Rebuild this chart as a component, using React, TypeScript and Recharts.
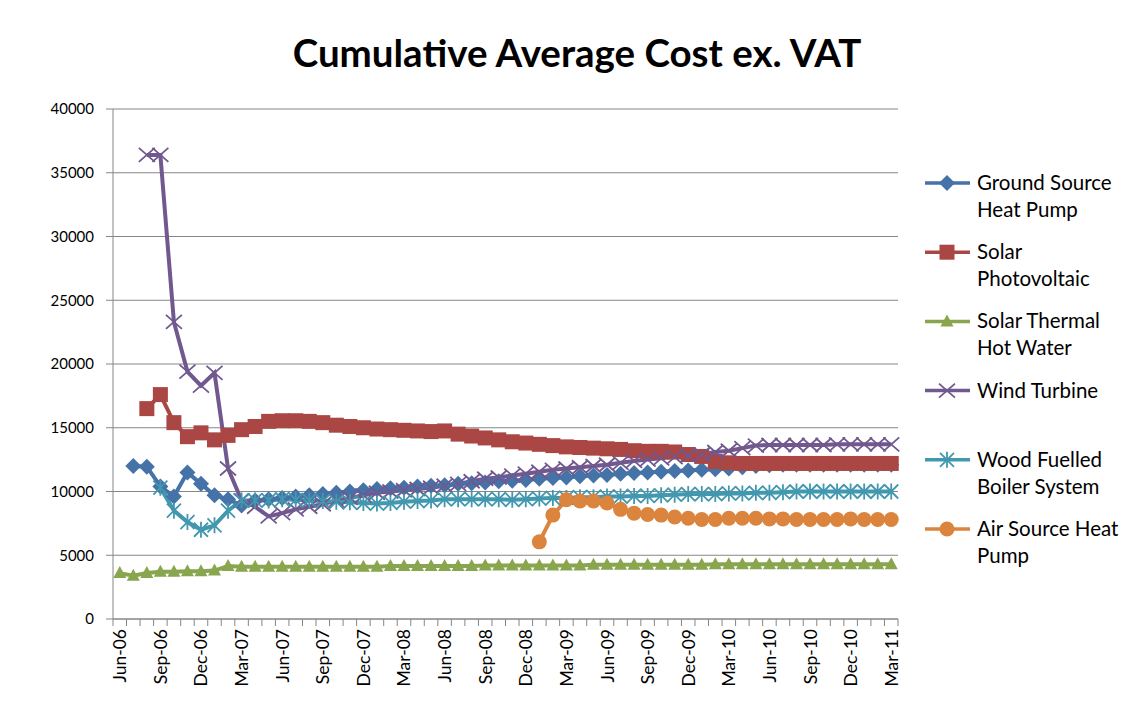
import React from 'react';
import { LineChart, Line, XAxis, YAxis, CartesianGrid, Legend } from 'recharts';

const months = [
  'Jun-06', 'Jul-06', 'Aug-06', 'Sep-06', 'Oct-06', 'Nov-06', 'Dec-06',
  'Jan-07', 'Feb-07', 'Mar-07', 'Apr-07', 'May-07', 'Jun-07', 'Jul-07', 'Aug-07', 'Sep-07', 'Oct-07', 'Nov-07', 'Dec-07',
  'Jan-08', 'Feb-08', 'Mar-08', 'Apr-08', 'May-08', 'Jun-08', 'Jul-08', 'Aug-08', 'Sep-08', 'Oct-08', 'Nov-08', 'Dec-08',
  'Jan-09', 'Feb-09', 'Mar-09', 'Apr-09', 'May-09', 'Jun-09', 'Jul-09', 'Aug-09', 'Sep-09', 'Oct-09', 'Nov-09', 'Dec-09',
  'Jan-10', 'Feb-10', 'Mar-10', 'Apr-10', 'May-10', 'Jun-10', 'Jul-10', 'Aug-10', 'Sep-10', 'Oct-10', 'Nov-10', 'Dec-10',
  'Jan-11', 'Feb-11', 'Mar-11',
];

const groundSource = [
  null, 12000, 11950, 10400, 9600, 11500, 10600, 9700, 9400, 8900,
  9300, 9400, 9500, 9600, 9700, 9800, 9900, 10000, 10100, 10200,
  10250, 10300, 10400, 10450, 10500, 10600, 10650, 10700, 10800, 10850,
  10900, 11000, 11050, 11100, 11200, 11250, 11300, 11400, 11450, 11500,
  11550, 11600, 11650, 11700, 11750, 11800, 11900, 12000, 12050, 12100,
  12100, 12100, 12100, 12100, 12100, 12100, 12100, 12100,
];

const solarPV = [
  null, null, 16500, 17600, 15400, 14300, 14600, 14050, 14400, 14850,
  15100, 15500, 15550, 15550, 15500, 15400, 15200, 15100, 15000, 14900,
  14850, 14800, 14750, 14700, 14750, 14500, 14350, 14200, 14050, 13900,
  13800, 13700, 13600, 13500, 13450, 13400, 13350, 13300, 13200, 13150,
  13150, 13100, 12900, 12750, 12350, 12250, 12200, 12200, 12200, 12200,
  12200, 12200, 12200, 12200, 12200, 12200, 12200, 12200,
];

const solarThermal = [
  3600, 3400, 3600, 3700, 3700, 3750, 3750, 3800, 4150, 4100,
  4100, 4100, 4100, 4100, 4100, 4100, 4100, 4100, 4100, 4100,
  4150, 4150, 4150, 4150, 4150, 4150, 4150, 4200, 4200, 4200,
  4200, 4200, 4200, 4200, 4200, 4250, 4250, 4250, 4250, 4250,
  4250, 4250, 4250, 4250, 4300, 4300, 4300, 4300, 4300, 4300,
  4300, 4300, 4300, 4300, 4300, 4300, 4300, 4300,
];

const windTurbine = [
  null, null, 36400, 36400, 23300, 19400, 18300, 19300, 11800, 9300,
  8800, 8050, 8300, 8600, 8800, 9000, 9300, 9500, 9700, 9900,
  10000, 10100, 10200, 10300, 10450, 10600, 10800, 11000, 11100, 11250,
  11400, 11550, 11700, 11800, 11900, 12000, 12100, 12250, 12400, 12500,
  12600, 12700, 12800, 12900, 13100, 13200, 13400, 13600, 13650, 13650,
  13650, 13650, 13650, 13700, 13700, 13700, 13700, 13700,
];

const woodBoiler = [
  null, null, null, 10300, 8500, 7600, 7000, 7350, 8500, 9300,
  9300, 9300, 9400, 9350, 9300, 9250, 9200, 9150, 9100, 9050,
  9100, 9200, 9250, 9300, 9400, 9400, 9400, 9400, 9400, 9350,
  9400, 9450, 9500, 9500, 9550, 9550, 9600, 9600, 9650, 9650,
  9700, 9750, 9800, 9800, 9800, 9850, 9850, 9900, 9900, 9950,
  10000, 10000, 10000, 10000, 10000, 10000, 10000, 10000,
];

const airSource = [
  null, null, null, null, null, null, null, null, null, null,
  null, null, null, null, null, null, null, null, null, null,
  null, null, null, null, null, null, null, null, null, null,
  null, 6050, 8150, 9350, 9250, 9250, 9100, 8600, 8300, 8200,
  8150, 8000, 7900, 7800, 7800, 7900, 7900, 7900, 7850, 7850,
  7800, 7800, 7800, 7800, 7850, 7800, 7800, 7800,
];

const yTicks = [0, 5000, 10000, 15000, 20000, 25000, 30000, 35000, 40000];

const seriesNames = [
  ['Ground Source', 'Heat Pump'],
  ['Solar', 'Photovoltaic'],
  ['Solar Thermal', 'Hot Water'],
  ['Wind Turbine'],
  ['Wood Fuelled', 'Boiler System'],
  ['Air Source Heat', 'Pump'],
];

const data = months.map((m, i) => ({
  month: m,
  gshp: groundSource[i],
  pv: solarPV[i],
  thermal: solarThermal[i],
  wind: windTurbine[i],
  wood: woodBoiler[i],
  ashp: airSource[i],
}));

const COLORS = ['#4572A7', '#AA4643', '#89A54E', '#71588F', '#4198AF', '#DB843D'];
const KEYS = ['gshp', 'pv', 'thermal', 'wind', 'wood', 'ashp'];
const FONT = 'Lato, "Open Sans", sans-serif';
const GRID = '#868686';

const W = 1134;
const H = 726;
const PLOT_LEFT = 113;
const PLOT_RIGHT = 898;
const PLOT_TOP = 109;
const PLOT_BOTTOM = 619;
const STEP = (PLOT_RIGHT - PLOT_LEFT) / months.length;

// marker shapes, drawn around (cx, cy)
function marker(kind: number, cx: number, cy: number, color: string) {
  switch (kind) {
    case 0:
      return <path d={`M${cx},${cy - 8}L${cx + 8},${cy}L${cx},${cy + 8}L${cx - 8},${cy}Z`} fill={color} />;
    case 1:
      return <rect x={cx - 7.5} y={cy - 7.5} width={15} height={15} fill={color} />;
    case 2:
      return <path d={`M${cx},${cy - 7}L${cx + 6.5},${cy + 5}L${cx - 6.5},${cy + 5}Z`} fill={color} />;
    case 3:
      return (
        <path
          d={`M${cx - 8},${cy - 7}L${cx + 8},${cy + 7}M${cx - 8},${cy + 7}L${cx + 8},${cy - 7}`}
          stroke={color}
          strokeWidth={1.8}
          fill="none"
        />
      );
    case 4:
      return (
        <path
          d={`M${cx - 7},${cy - 7}L${cx + 7},${cy + 7}M${cx - 7},${cy + 7}L${cx + 7},${cy - 7}M${cx},${cy - 8}L${cx},${cy + 8}`}
          stroke={color}
          strokeWidth={1.8}
          fill="none"
        />
      );
    default:
      return <circle cx={cx} cy={cy} r={7.5} fill={color} />;
  }
}

const makeDot = (kind: number) => (props: any) => {
  const { cx, cy, index } = props;
  if (cx == null || cy == null || Number.isNaN(cy)) return <g key={`m${kind}-${index}`} />;
  return <g key={`m${kind}-${index}`}>{marker(kind, cx, cy, COLORS[kind])}</g>;
};

const XTick = (props: any) => {
  const { x, y, payload } = props;
  const i = months.indexOf(payload.value);
  const left = x - STEP / 2;
  return (
    <g>
      <line x1={left} y1={y} x2={left} y2={y + 7} stroke={GRID} />
      {i === months.length - 1 && <line x1={x + STEP / 2} y1={y} x2={x + STEP / 2} y2={y + 7} stroke={GRID} />}
      {i % 3 === 0 && (
        <text
          transform={`translate(${x + 6.5},${y + 10}) rotate(-90)`}
          textAnchor="end"
          fontFamily={FONT}
          fontSize={17.5}
          fill="#000"
        >
          {payload.value}
        </text>
      )}
    </g>
  );
};

const renderLegend = () => (
  <svg width={214} height={420}>
    {seriesNames.map((lines, k) => {
      const cy = 23 + 69.2 * k;
      return (
        <g key={k}>
          <line x1={5} y1={cy} x2={50} y2={cy} stroke={COLORS[k]} strokeWidth={3.5} />
          {marker(k, 27, cy, COLORS[k])}
          {lines.map((t, j) => (
            <text key={j} x={57} y={cy + 27 * j + 7} fontFamily={FONT} fontSize={20.5} fill="#000">
              {t}
            </text>
          ))}
        </g>
      );
    })}
  </svg>
);

export default function App() {
  return (
    <div style={{ position: 'absolute', left: 0, top: 0, width: W, height: H, background: '#fff' }}>
      <div
        style={{
          position: 'absolute',
          left: 0,
          width: W,
          top: 29,
          textAlign: 'center',
          paddingLeft: 20,
          boxSizing: 'border-box',
          fontFamily: FONT,
          fontWeight: 700,
          fontSize: 38.5,
          color: '#000',
        }}
      >
        Cumulative Average Cost ex. VAT
      </div>
      <LineChart
        width={W}
        height={H}
        data={data}
        margin={{ top: PLOT_TOP, right: W - PLOT_RIGHT, left: 0, bottom: 0 }}
      >
        <CartesianGrid vertical={false} stroke={GRID} strokeDasharray="" />
        <XAxis
          dataKey="month"
          interval={0}
          height={H - PLOT_BOTTOM}
          padding={{ left: STEP / 2, right: STEP / 2 }}
          stroke={GRID}
          tickLine={false}
          tickSize={0}
          tickMargin={0}
          tick={<XTick />}
        />
        <YAxis
          width={PLOT_LEFT}
          domain={[0, 40000]}
          ticks={yTicks}
          interval={0}
          stroke={GRID}
          tickSize={7}
          tickMargin={12}
          tick={{ fill: '#000', fontSize: 15, fontFamily: FONT }}
        />
        <Legend
          layout="vertical"
          align="center"
          verticalAlign="middle"
          wrapperStyle={{ position: 'absolute', left: 920, top: 160, width: 214, height: 420 }}
          content={renderLegend}
        />
        {KEYS.map((k, i) => (
          <Line
            key={k}
            type="linear"
            dataKey={k}
            stroke={COLORS[i]}
            strokeWidth={4}
            dot={makeDot(i)}
            activeDot={false}
            isAnimationActive={false}
          />
        ))}
      </LineChart>
    </div>
  );
}
